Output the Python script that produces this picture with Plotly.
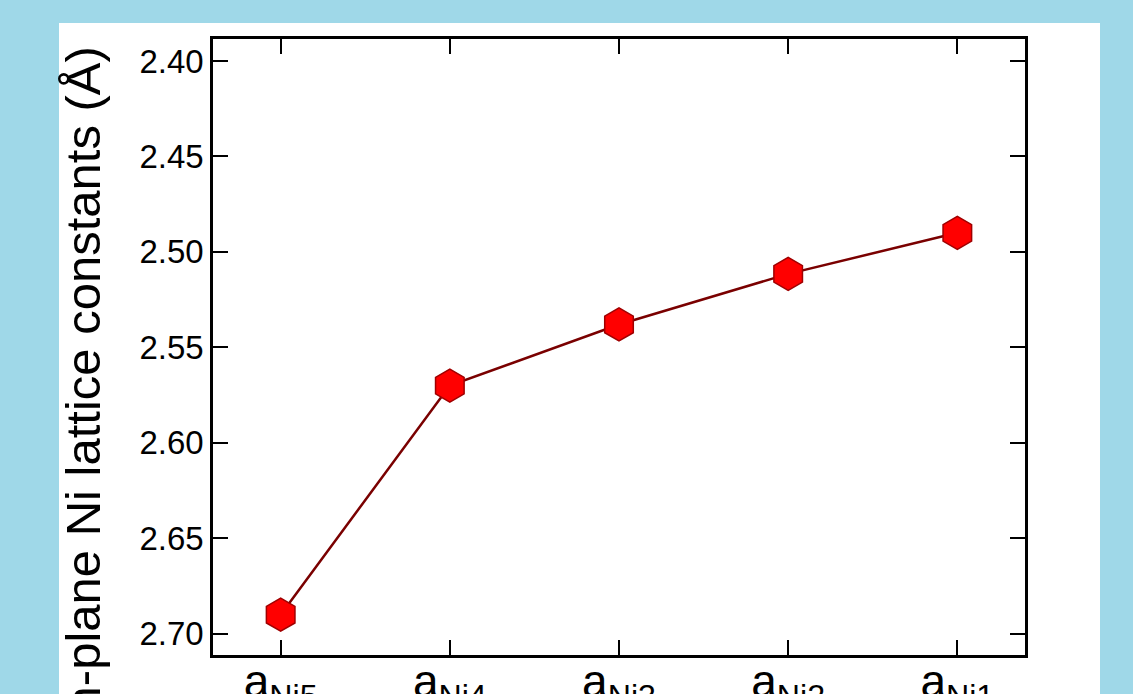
import plotly.graph_objects as go

categories = ["a_Ni5", "a_Ni4", "a_Ni3", "a_Ni2", "a_Ni1"]
tick_labels = ["a<sub>Ni5</sub>", "a<sub>Ni4</sub>", "a<sub>Ni3</sub>", "a<sub>Ni2</sub>", "a<sub>Ni1</sub>"]
lattice = [2.690, 2.570, 2.538, 2.5115, 2.490]
y_ticks = [2.40, 2.45, 2.50, 2.55, 2.60, 2.65, 2.70]

W, H = 1133, 694
L, R, T, B = 213, 1025, 39, 655
pw, ph = R - L, B - T
BLUE = "#9fd8e8"

def px(x):
    return (x - L) / pw

def py(y):
    return (B - y) / ph

FONT = "Arial, Liberation Sans, sans-serif"

fig = go.Figure()
fig.add_trace(go.Scatter(
    x=list(range(len(categories))), y=lattice, mode="lines+markers",
    line=dict(color="#7a0000", width=2.5),
    marker=dict(symbol="hexagon", size=33, color="#ff0000",
                line=dict(color="#a00000", width=1.5)),
    showlegend=False, hoverinfo="skip"))

fig.add_shape(type="rect", xref="paper", yref="paper",
              x0=px(59), x1=px(1100), y0=py(720), y1=py(23),
              fillcolor="white", line=dict(width=0), layer="below")

fig.add_annotation(xref="paper", yref="paper", x=px(83), y=py(387),
                   text="In-plane Ni lattice constants (Å)", textangle=-90,
                   showarrow=False, xanchor="center", yanchor="middle",
                   font=dict(family=FONT, size=49, color="black"))

fig.update_layout(
    width=W, height=H,
    margin=dict(l=L, r=W - R, t=T, b=H - B, pad=0, autoexpand=False),
    paper_bgcolor=BLUE, plot_bgcolor="white",
    xaxis=dict(range=[-0.4, 4.4], tickmode="array", automargin=False,
               tickvals=list(range(len(categories))), ticktext=tick_labels,
               ticks="inside", ticklen=15, tickwidth=2, tickcolor="black",
               ticklabelstandoff=-16,
               showline=True, linewidth=2.5, linecolor="black", mirror="ticks",
               showgrid=False, zeroline=False,
               tickfont=dict(family=FONT, size=46, color="black")),
    yaxis=dict(range=[2.7111, 2.3885], tickmode="array", tickvals=y_ticks,
               automargin=False,
               ticktext=[f"{v:.2f}" for v in y_ticks],
               ticks="inside", ticklen=15, tickwidth=2, tickcolor="black",
               showline=True, linewidth=2.5, linecolor="black", mirror="ticks",
               showgrid=False, zeroline=False,
               tickfont=dict(family=FONT, size=33, color="black")),
)

fig.write_html(
    "out.html",
    config={"displayModeBar": False},
    post_script=("document.documentElement.style.margin='0';"
                 "document.body.style.margin='0';"
                 "document.body.style.overflow='hidden';"
                 f"document.body.style.background='{BLUE}';"),
)
